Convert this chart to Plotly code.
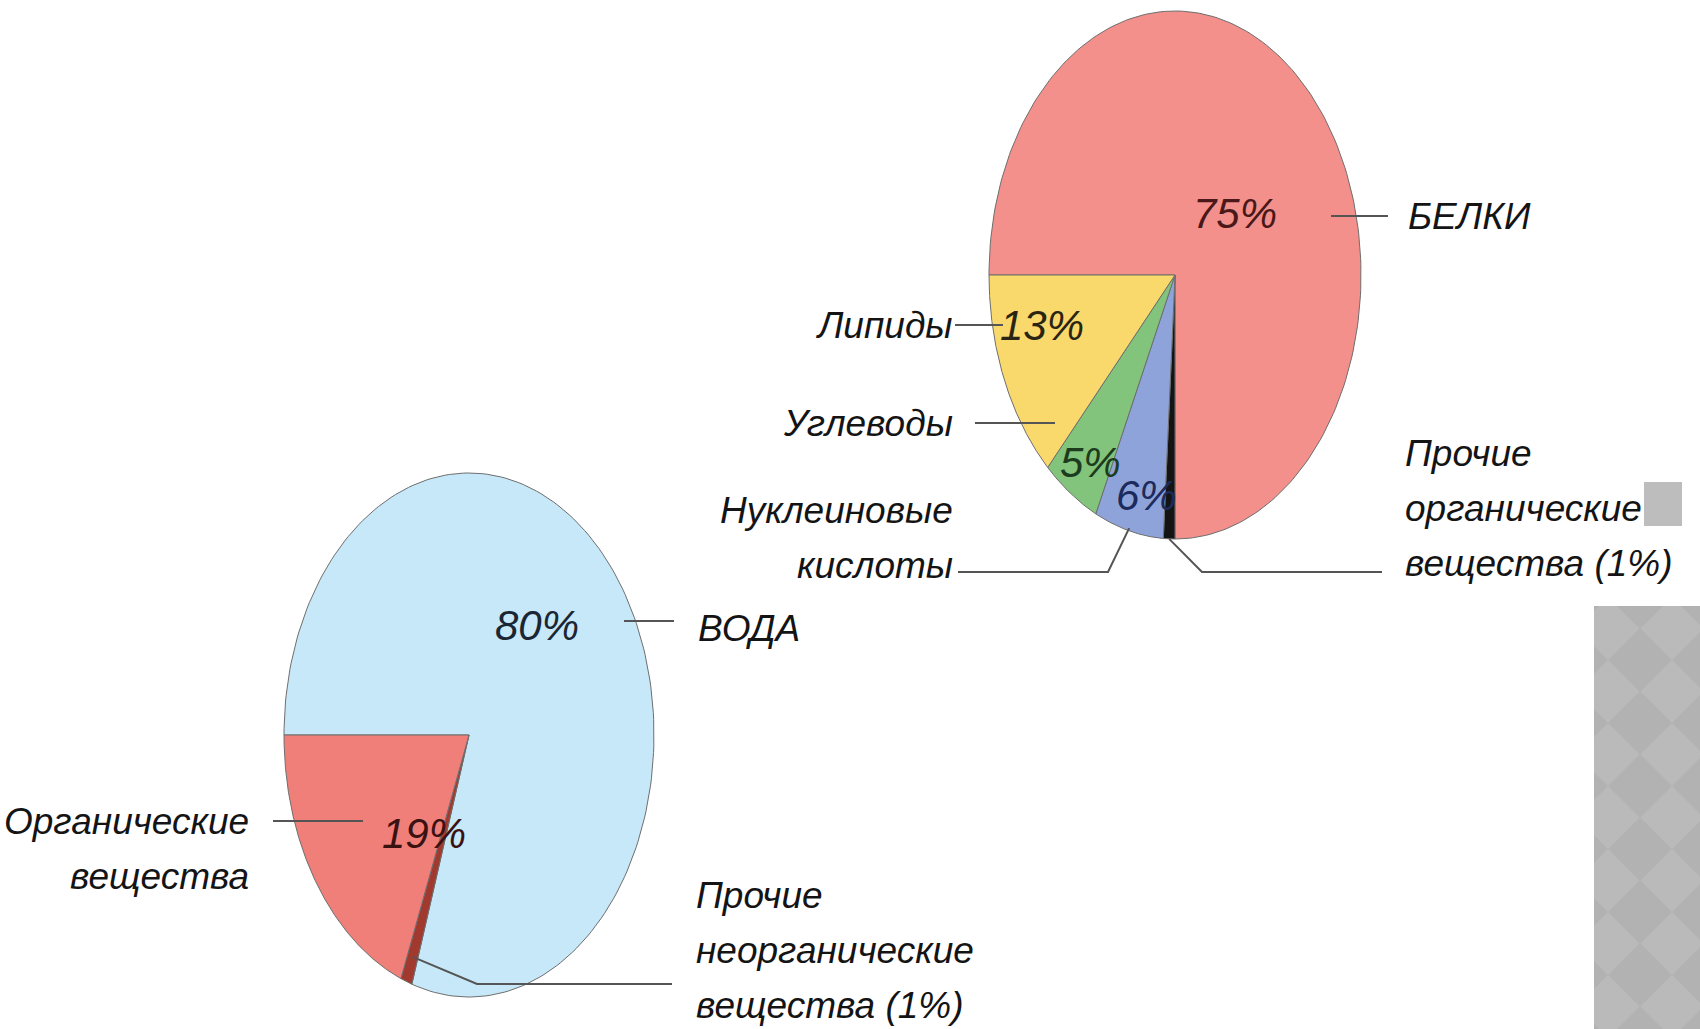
import numpy as np
import plotly.graph_objects as go

# Состав органических веществ клетки (верхняя диаграмма)
top_labels = ["БЕЛКИ", "Прочие<br>органические<br>вещества (1%)", "Нуклеиновые<br>кислоты", "Углеводы", "Липиды"]
top_values = [75, 1, 6, 5, 13]
top_colors = ["#F3908B", "#141414", "#8EA3DA", "#82C47B", "#FAD96C"]
top_pct_colors = ["#4a1818", None, "#1c2a5c", "#1d3b1d", "#2a2412"]

# Химический состав клетки (нижняя диаграмма)
bottom_labels = ["ВОДА", "Прочие<br>неорганические<br>вещества (1%)", "Органические<br>вещества"]
bottom_values = [80, 1, 19]
bottom_colors = ["#C7E8F8", "#A2392F", "#EF7F78"]
bottom_pct_colors = ["#1a2633", None, "#3a1212"]

W, H = 1700, 1029
FONT = "Liberation Sans, Arial, sans-serif"
LINE_GAP = 55  # spacing of lines in multi-line labels

# geometry of the two (stretched) pies, in page pixels
TOP = dict(cx=1175, cy=275, rx=186, ry=264)
BOT = dict(cx=469, cy=735, rx=185, ry=262)
START = 270  # both pies start at 9 o'clock, going clockwise


def ell_point(p, ang, frac=1.0):
    t = np.radians(ang)
    return p["cx"] + frac * p["rx"] * np.sin(t), p["cy"] - frac * p["ry"] * np.cos(t)


def slice_angles(values):
    edges = START + np.concatenate([[0], np.cumsum(values)]) * 3.6
    return list(zip(edges[:-1], edges[1:]))


fig = go.Figure()


def add_pie(p, values, colors):
    for (a0, a1), col in zip(slice_angles(values), colors):
        t = np.linspace(a0, a1, 200)
        ax, ay = ell_point(p, t)
        xs = np.concatenate([[p["cx"]], ax, [p["cx"]]])
        ys = np.concatenate([[p["cy"]], ay, [p["cy"]]])
        fig.add_trace(go.Scatter(
            x=xs, y=ys, mode="lines", fill="toself", fillcolor=col,
            line=dict(color="#6e6e6e", width=1), hoverinfo="skip", showlegend=False
        ))


add_pie(TOP, top_values, top_colors)
add_pie(BOT, bottom_values, bottom_colors)


def leader(xs, ys):
    fig.add_trace(go.Scatter(
        x=xs, y=ys, mode="lines", line=dict(color="#555555", width=2),
        hoverinfo="skip", showlegend=False
    ))


def text(x, y, s, anchor="left", size=37, color="#141414"):
    # y is the middle of the first line; further lines go LINE_GAP lower
    for i, line in enumerate(s.split("<br>")):
        fig.add_annotation(
            x=x, y=y + i * LINE_GAP, text=line, showarrow=False,
            xanchor=anchor, yanchor="middle",
            font=dict(family=FONT, size=size, color=color, style="italic")
        )


top_ang = slice_angles(top_values)
bot_ang = slice_angles(bottom_values)

# --- top pie labels
text(1406, 216, top_labels[0])
leader([1331, 1388], [216, 216])
text(955, 325, top_labels[4], anchor="right")
leader([955, 1003], [325, 325])
text(955, 423, top_labels[3], anchor="right")
leader([975, 1055], [423, 423])
text(955, 510, top_labels[2], anchor="right")
nx, ny = ell_point(TOP, np.mean(top_ang[2]), 0.99)
leader([958, 1108, nx], [572, 572, ny])
text(1403, 453, top_labels[1])
ox, oy = ell_point(TOP, np.mean(top_ang[1]), 1.0)
leader([ox, 1202, 1382], [oy, 572, 572])

pct_pos_top = [(1235, 213), None, (1146, 495), (1090, 462), (1042, 325)]
for v, pos, c in zip(top_values, pct_pos_top, top_pct_colors):
    if pos:
        text(pos[0], pos[1], f"{v}%", anchor="center", size=42, color=c)

# --- bottom pie labels
text(696, 628, bottom_labels[0])
leader([624, 674], [621, 621])
text(251, 821, bottom_labels[2], anchor="right")
leader([273, 363], [821, 821])
text(694, 895, bottom_labels[1])
bx, by = ell_point(BOT, np.mean(bot_ang[1]), 0.9)
leader([bx, 477, 672], [by, 984, 984])

pct_pos_bot = [(537, 625), None, (424, 833)]
for v, pos, c in zip(bottom_values, pct_pos_bot, bottom_pct_colors):
    if pos:
        text(pos[0], pos[1], f"{v}%", anchor="center", size=42, color=c)


# decorative grey blocks of the slide (diamond pattern)
def clip_poly(pts, x0, x1, y0, y1):
    for axis, val, sgn in [(0, x0, 1), (0, x1, -1), (1, y0, 1), (1, y1, -1)]:
        out = []
        for i in range(len(pts)):
            p, q = pts[i], pts[(i + 1) % len(pts)]
            pin = sgn * (p[axis] - val) >= 0
            qin = sgn * (q[axis] - val) >= 0
            if pin:
                out.append(p)
            if pin != qin:
                t = (val - p[axis]) / (q[axis] - p[axis])
                out.append((p[0] + t * (q[0] - p[0]), p[1] + t * (q[1] - p[1])))
        pts = out
        if not pts:
            break
    return pts


RX0, RX1, RY0, RY1 = 1594, 1700, 606, 1029
fig.add_shape(type="rect", x0=RX0, x1=RX1, y0=RY0, y1=RY1,
              fillcolor="#BABABA", line_width=0, layer="below")
for dcx in (1576, 1640, 1704):
    for dcy in np.arange(597, 1100, 63):
        d = [(dcx, dcy - 32), (dcx + 32, dcy), (dcx, dcy + 32), (dcx - 32, dcy)]
        poly = clip_poly(d, RX0, RX1, RY0, RY1)
        if len(poly) >= 3:
            path = "M " + " L ".join(f"{px:.1f},{py:.1f}" for px, py in poly) + " Z"
            fig.add_shape(type="path", path=path, fillcolor="#B2B2B2",
                          line_width=0, layer="below")
fig.add_shape(type="rect", x0=1644, x1=1682, y0=482, y1=526,
              fillcolor="#BDBDBD", line_width=0, layer="below")

fig.update_layout(
    width=W, height=H,
    margin=dict(l=0, r=0, t=0, b=0),
    paper_bgcolor="white", plot_bgcolor="white",
    xaxis=dict(range=[0, W], visible=False, fixedrange=True),
    yaxis=dict(range=[H, 0], visible=False, fixedrange=True),
    showlegend=False,
)

fig.write_html("out.html", config={"displayModeBar": False},
               post_script="document.body.style.margin='0px';")
